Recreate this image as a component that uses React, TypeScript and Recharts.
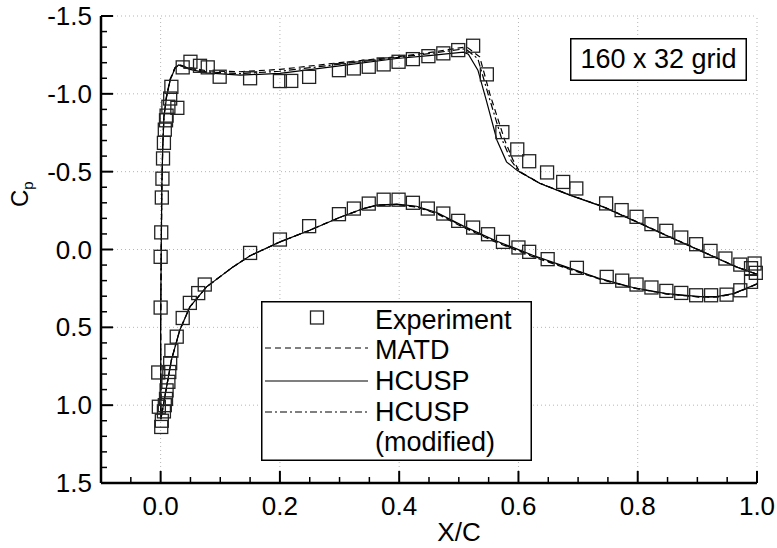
import React from 'react';
import { ComposedChart, Line, Scatter, XAxis, YAxis, ReferenceLine, Legend } from 'recharts';

const FONT = '"Liberation Sans", Arial, sans-serif';

// axis ticks (minor + major), grid lines at the major ones
const xTicks = [-0.05, 0, 0.05, 0.1, 0.15, 0.2, 0.25, 0.3, 0.35, 0.4, 0.45, 0.5, 0.55, 0.6, 0.65, 0.7, 0.75, 0.8, 0.85, 0.9, 0.95, 1.0];
const yTicks = [-1.5, -1.4, -1.3, -1.2, -1.1, -1.0, -0.9, -0.8, -0.7, -0.6, -0.5, -0.4, -0.3, -0.2, -0.1, 0, 0.1, 0.2, 0.3, 0.4, 0.5, 0.6, 0.7, 0.8, 0.9, 1.0, 1.1, 1.2, 1.3, 1.4, 1.5];
const xGrid = [0, 0.2, 0.4, 0.6, 0.8, 1.0];
const yGrid = [-1.5, -1.0, -0.5, 0, 0.5, 1.0];

// experiment, lower surface (LE -> TE)
const expLowerX = [0.001, 0.002, 0.0055, 0.007, 0.009, 0.01, 0.013, 0.0145, 0.016, 0.018, 0.027, 0.037, 0.049, 0.063, 0.074, 0.15, 0.2, 0.249, 0.299, 0.324, 0.349, 0.374, 0.399, 0.423, 0.448, 0.474, 0.499, 0.524, 0.549, 0.574, 0.6, 0.618, 0.649, 0.698, 0.748, 0.774, 0.798, 0.823, 0.848, 0.873, 0.898, 0.923, 0.949, 0.972, 0.99, 0.998];
const expLowerCp = [1.14, 1.10, 1.04, 1.0, 0.96, 0.905, 0.85, 0.787, 0.73, 0.65, 0.56, 0.44, 0.343, 0.28, 0.225, 0.022, -0.064, -0.15, -0.227, -0.263, -0.295, -0.32, -0.32, -0.3, -0.263, -0.231, -0.184, -0.141, -0.098, -0.049, -0.013, 0.015, 0.062, 0.118, 0.176, 0.2, 0.225, 0.244, 0.266, 0.279, 0.294, 0.294, 0.29, 0.262, 0.208, 0.15];

// experiment, upper surface (LE -> TE)
const expUpperX = [-0.003, -0.004, 0.0, 0.0, 0.001, 0.002, 0.003, 0.004, 0.0055, 0.007, 0.009, 0.01, 0.013, 0.016, 0.028, 0.018, 0.037, 0.05, 0.066, 0.079, 0.099, 0.15, 0.2, 0.219, 0.249, 0.299, 0.324, 0.349, 0.374, 0.399, 0.423, 0.449, 0.474, 0.499, 0.524, 0.547, 0.573, 0.598, 0.618, 0.648, 0.675, 0.697, 0.747, 0.773, 0.798, 0.823, 0.848, 0.873, 0.898, 0.922, 0.947, 0.972, 0.99, 0.996];
const expUpperCp = [1.01, 0.79, 0.373, 0.047, -0.11, -0.334, -0.455, -0.585, -0.685, -0.77, -0.83, -0.86, -0.917, -0.97, -0.91, -1.045, -1.17, -1.206, -1.18, -1.17, -1.11, -1.10, -1.082, -1.083, -1.109, -1.152, -1.163, -1.174, -1.189, -1.206, -1.223, -1.242, -1.26, -1.281, -1.309, -1.125, -0.754, -0.643, -0.567, -0.495, -0.434, -0.392, -0.296, -0.253, -0.21, -0.163, -0.12, -0.077, -0.034, 0.009, 0.058, 0.097, 0.12, 0.09];

// HCUSP (solid): lower TE -> LE -> upper TE
const hcuspX = [1.0, 0.982, 0.96, 0.932, 0.905, 0.848, 0.792, 0.736, 0.68, 0.624, 0.563, 0.507, 0.463, 0.429, 0.396, 0.362, 0.34, 0.3, 0.25, 0.2, 0.15, 0.122, 0.077, 0.049, 0.032, 0.018, 0.007, 0.0005, 0.0, 0.001, 0.002, 0.0035, 0.0055, 0.01, 0.016, 0.024, 0.03, 0.049, 0.077, 0.133, 0.2, 0.3, 0.396, 0.45, 0.508, 0.516, 0.532, 0.546, 0.564, 0.58, 0.597, 0.636, 0.686, 0.742, 0.798, 0.853, 0.909, 0.965, 1.0];
const hcuspCp = [0.22, 0.25, 0.283, 0.303, 0.303, 0.283, 0.244, 0.186, 0.112, 0.037, -0.055, -0.152, -0.238, -0.278, -0.291, -0.285, -0.263, -0.206, -0.124, -0.049, 0.04, 0.11, 0.24, 0.369, 0.519, 0.711, 0.947, 1.09, 0.5, 0.0, -0.4, -0.65, -0.85, -0.98, -1.088, -1.163, -1.185, -1.157, -1.135, -1.12, -1.131, -1.18, -1.227, -1.245, -1.268, -1.255, -1.152, -0.96, -0.702, -0.563, -0.51, -0.424, -0.349, -0.274, -0.177, -0.081, 0.015, 0.112, 0.16];

// MATD (dashed)
const matdX = [1.0, 0.982, 0.96, 0.932, 0.905, 0.848, 0.792, 0.736, 0.68, 0.624, 0.563, 0.507, 0.463, 0.429, 0.396, 0.362, 0.34, 0.3, 0.25, 0.2, 0.15, 0.122, 0.077, 0.049, 0.032, 0.018, 0.007, 0.0005, 0.0, 0.001, 0.002, 0.0035, 0.0055, 0.01, 0.016, 0.024, 0.03, 0.049, 0.077, 0.133, 0.2, 0.3, 0.396, 0.45, 0.513, 0.535, 0.552, 0.577, 0.591, 0.602, 0.636, 0.686, 0.742, 0.798, 0.853, 0.909, 0.965, 1.0];
const matdCp = [0.222, 0.252, 0.286, 0.306, 0.306, 0.286, 0.247, 0.19, 0.12, 0.046, -0.046, -0.143, -0.23, -0.272, -0.288, -0.283, -0.262, -0.206, -0.124, -0.048, 0.04, 0.11, 0.24, 0.369, 0.519, 0.711, 0.947, 1.09, 0.5, 0.0, -0.4, -0.66, -0.86, -0.99, -1.095, -1.168, -1.188, -1.168, -1.148, -1.142, -1.157, -1.2, -1.238, -1.265, -1.302, -1.238, -1.0, -0.702, -0.574, -0.5, -0.426, -0.351, -0.276, -0.18, -0.083, 0.013, 0.11, 0.158];

// HCUSP (modified) (dash-dot)
const hmodX = [1.0, 0.982, 0.96, 0.932, 0.905, 0.848, 0.792, 0.736, 0.68, 0.624, 0.563, 0.507, 0.463, 0.429, 0.396, 0.362, 0.34, 0.3, 0.25, 0.2, 0.15, 0.122, 0.077, 0.049, 0.032, 0.018, 0.007, 0.0005, 0.0, 0.001, 0.002, 0.0035, 0.0055, 0.01, 0.016, 0.024, 0.03, 0.049, 0.077, 0.133, 0.2, 0.3, 0.396, 0.45, 0.511, 0.532, 0.549, 0.572, 0.588, 0.601, 0.636, 0.686, 0.742, 0.798, 0.853, 0.909, 0.965, 1.0];
const hmodCp = [0.221, 0.251, 0.285, 0.305, 0.305, 0.285, 0.246, 0.188, 0.116, 0.041, -0.05, -0.148, -0.234, -0.275, -0.29, -0.284, -0.262, -0.206, -0.124, -0.048, 0.04, 0.11, 0.24, 0.369, 0.519, 0.711, 0.947, 1.09, 0.5, 0.0, -0.4, -0.655, -0.855, -0.985, -1.09, -1.165, -1.186, -1.162, -1.141, -1.13, -1.145, -1.19, -1.233, -1.258, -1.29, -1.225, -1.0, -0.71, -0.57, -0.5, -0.425, -0.35, -0.275, -0.178, -0.082, 0.014, 0.111, 0.159];

const zip = (xs: number[], ys: number[]) => xs.map((x, i) => ({ x, y: ys[i] }));

const experiment = [...zip(expLowerX, expLowerCp), ...zip(expUpperX, expUpperCp)];
const hcusp = zip(hcuspX, hcuspCp);
const matd = zip(matdX, matdCp);
const hcuspMod = zip(hmodX, hmodCp);

const isMult = (v: number, step: number) => Math.abs(v / step - Math.round(v / step)) < 1e-6;

const XTick = (props: any) => {
  const { x, y, payload } = props;
  const v = payload.value as number;
  const major = isMult(v, 0.2);
  const len = major ? 12 : 6;
  return (
    <g>
      <line x1={x} y1={y} x2={x} y2={y - len} stroke="#000" strokeWidth={major ? 2 : 1.5} />
      {major && (
        <text x={x} y={y + 32} textAnchor="middle" fontSize={26} fontFamily={FONT} fill="#000">
          {v.toFixed(1)}
        </text>
      )}
    </g>
  );
};

const YTick = (props: any) => {
  const { x, y, payload } = props;
  const v = payload.value as number;
  const major = isMult(v, 0.5);
  const len = major ? 12 : 6;
  return (
    <g>
      <line x1={x} y1={y} x2={x + len} y2={y} stroke="#000" strokeWidth={major ? 2 : 1.5} />
      {major && (
        <text x={x - 9} y={y + 9} textAnchor="end" fontSize={26} fontFamily={FONT} fill="#000">
          {v.toFixed(1)}
        </text>
      )}
    </g>
  );
};

const Square = (props: any) => {
  const { cx, cy } = props;
  if (cx == null || cy == null) return null;
  return <rect x={cx - 6.5} y={cy - 6.5} width={13} height={13} fill="none" stroke="#222" strokeWidth={1.3} />;
};

const LegendBox = () => (
  <svg width={271} height={160} style={{ display: 'block' }}>
    <rect x={0.75} y={0.75} width={269.5} height={158.5} fill="#fff" stroke="#000" strokeWidth={1.5} />
    <rect x={49.5} y={10} width={13} height={13} fill="none" stroke="#222" strokeWidth={1.3} />
    <line x1={4} x2={107} y1={47} y2={47} stroke="#000" strokeWidth={1.2} strokeDasharray="6 4" />
    <line x1={4} x2={107} y1={80} y2={80} stroke="#000" strokeWidth={1.2} />
    <line x1={4} x2={107} y1={111} y2={111} stroke="#000" strokeWidth={1.2} strokeDasharray="7 3 2 3" />
    <g fontSize={27} fontFamily={FONT} fill="#000">
      <text x={114} y={28}>Experiment</text>
      <text x={114} y={58}>MATD</text>
      <text x={114} y={89}>HCUSP</text>
      <text x={114} y={120}>HCUSP</text>
      <text x={114} y={150}>(modified)</text>
    </g>
  </svg>
);

const App: React.FC = () => {
  return (
    <div style={{ position: 'absolute', left: 0, top: 0, width: 777, height: 548 }}>
      <ComposedChart width={777} height={548} margin={{ top: 16, right: 20, bottom: 25, left: 21 }}>
        <XAxis
          type="number"
          dataKey="x"
          domain={[-0.1, 1.0]}
          ticks={xTicks}
          interval={0}
          height={40}
          tickSize={0}
          tickMargin={0}
          tickLine={false}
          axisLine={{ stroke: '#000', strokeWidth: 2.5 }}
          tick={<XTick />}
          label={{
            content: () => (
              <text x={459} y={541} textAnchor="middle" fontSize={26} fontFamily={FONT} fill="#000">
                X/C
              </text>
            ),
          }}
        />
        <YAxis
          type="number"
          dataKey="y"
          domain={[-1.5, 1.5]}
          reversed
          ticks={yTicks}
          interval={0}
          width={80}
          tickSize={0}
          tickMargin={0}
          tickLine={false}
          axisLine={{ stroke: '#000', strokeWidth: 2.5 }}
          tick={<YTick />}
          label={{
            content: () => (
              <text transform="rotate(-90 28 207)" x={28} y={207} fontSize={24} fontFamily={FONT} fill="#000">
                C<tspan fontSize={15} dy={5}>p</tspan>
              </text>
            ),
          }}
        />
        {xGrid.map((v) => (
          <ReferenceLine key={'gx' + v} x={v} stroke="#b5b5b5" strokeDasharray="1 3" />
        ))}
        {yGrid.map((v) => (
          <ReferenceLine key={'gy' + v} y={v} stroke="#b5b5b5" strokeDasharray="1 3" />
        ))}
        <Line data={matd} dataKey="y" name="MATD" type="linear" stroke="#000" strokeWidth={1.2} strokeDasharray="6 4" dot={false} activeDot={false} isAnimationActive={false} />
        <Line data={hcusp} dataKey="y" name="HCUSP" type="linear" stroke="#000" strokeWidth={1.2} dot={false} activeDot={false} isAnimationActive={false} />
        <Line data={hcuspMod} dataKey="y" name="HCUSP (modified)" type="linear" stroke="#000" strokeWidth={1.2} strokeDasharray="7 3 2 3" dot={false} activeDot={false} isAnimationActive={false} />
        <Scatter data={experiment} dataKey="y" name="Experiment" shape={<Square />} isAnimationActive={false} />
        <Legend
          layout="vertical"
          align="center"
          verticalAlign="middle"
          content={() => <LegendBox />}
          wrapperStyle={{ left: 261, top: 301, width: 271, height: 160 }}
        />
      </ComposedChart>
      <div style={{ position: 'absolute', left: 570, top: 38, width: 177, height: 43 }}>
        <svg width={177} height={43} style={{ display: 'block' }}>
          <rect x={0.75} y={0.75} width={175.5} height={41.5} fill="#fff" stroke="#000" strokeWidth={1.5} />
          <text x={88.5} y={30} textAnchor="middle" fontSize={27} fontFamily={FONT} fill="#000">
            160 x 32 grid
          </text>
        </svg>
      </div>
    </div>
  );
};

export default App;
